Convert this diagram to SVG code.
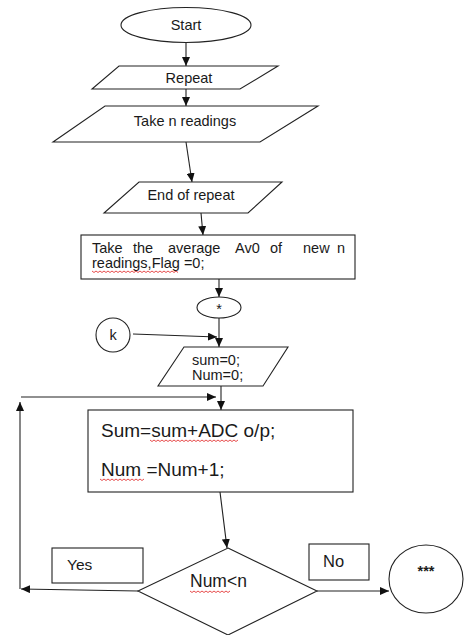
<svg xmlns="http://www.w3.org/2000/svg" width="470" height="635" viewBox="0 0 470 635">
<style>
.s{fill:#fff;stroke:#222;stroke-width:1.1}
.t{font-family:"Liberation Sans",Arial,sans-serif;font-size:14.5px;fill:#1a1a1a}
.b{font-size:19px}
.c{fill:none;stroke:#222;stroke-width:1.1}
.w{fill:none;stroke:#e02020;stroke-width:0.8}
</style>
<defs>
<marker id="a" markerUnits="userSpaceOnUse" markerWidth="10" markerHeight="8" refX="9" refY="4" orient="auto">
<path d="M0,0 L9,4 L0,8 z" fill="#111"/>
</marker>
</defs>
<rect width="470" height="635" fill="#fff"/>
<g id="connectors">
<line class="c" x1="186" y1="42" x2="186" y2="66" marker-end="url(#a)"/>
<line class="c" x1="186" y1="89" x2="186" y2="106" marker-end="url(#a)"/>
<line class="c" x1="186" y1="142" x2="192" y2="182" marker-end="url(#a)"/>
<line class="c" x1="201" y1="213" x2="203" y2="235" marker-end="url(#a)"/>
<line class="c" x1="219" y1="279" x2="219" y2="297" marker-end="url(#a)"/>
<line class="c" x1="219" y1="318" x2="219" y2="347" marker-end="url(#a)"/>
<line class="c" x1="133" y1="334" x2="217" y2="337" marker-end="url(#a)"/>
<line class="c" x1="221" y1="386" x2="221" y2="410" marker-end="url(#a)"/>
<line class="c" x1="138" y1="591" x2="21" y2="589" marker-end="url(#a)"/>
<line class="c" x1="20" y1="589" x2="20" y2="402" marker-end="url(#a)"/>
<line class="c" x1="21" y1="397" x2="216" y2="397" marker-end="url(#a)"/>
<line class="c" x1="220" y1="492" x2="227" y2="548" marker-end="url(#a)"/>
<line class="c" x1="317" y1="591" x2="389" y2="591" marker-end="url(#a)"/>
</g>
<g id="start">
<ellipse class="s" cx="186" cy="25" rx="65" ry="17.5"/>
<text class="t" x="186" y="30" text-anchor="middle">Start</text>
</g>
<g id="repeat">
<polygon class="s" points="119,66 278,66 240,89 92,89"/>
<text class="t" x="189" y="83" text-anchor="middle">Repeat</text>
</g>
<g id="take-n">
<polygon class="s" points="105,106 318,106 260,142 53,142"/>
<text class="t" x="185" y="126" text-anchor="middle">Take n readings</text>
</g>
<g id="end-repeat">
<polygon class="s" points="139,182 282,182 248,213 104,213"/>
<text class="t" x="191" y="200" text-anchor="middle">End of repeat</text>
</g>
<g id="average">
<rect class="s" x="81" y="235" width="274" height="44"/>
<text class="t" y="253"><tspan x="92">Take</tspan><tspan x="133">the</tspan><tspan x="168">average</tspan><tspan x="235">Av0</tspan><tspan x="270">of</tspan><tspan x="303">new</tspan><tspan x="337">n</tspan></text>
<text class="t" x="92" y="268">readings,Flag =0;</text>
<path class="w" d="M92,271 l2,1.5 l2,-1.5 l2,1.5 l2,-1.5 l2,1.5 l2,-1.5 l2,1.5 l2,-1.5 l2,1.5 l2,-1.5 l2,1.5 l2,-1.5 l2,1.5 l2,-1.5 l2,1.5 l2,-1.5 l2,1.5 l2,-1.5 l2,1.5 l2,-1.5 l2,1.5 l2,-1.5 l2,1.5 l2,-1.5 l2,1.5 l2,-1.5 l2,1.5 l2,-1.5 l2,1.5 l2,-1.5 l2,1.5 l2,-1.5 l2,1.5 l2,-1.5 l2,1.5 l2,-1.5 l2,1.5 l2,-1.5 l2,1.5 l2,-1.5 l2,1.5 l2,-1.5 l2,1.5"/>
</g>
<g id="connector-star">
<ellipse class="s" cx="219" cy="307.5" rx="22" ry="10.5"/>
<text class="t" x="219" y="314" text-anchor="middle">*</text>
</g>
<g id="connector-k">
<circle class="s" cx="113" cy="335" r="17"/>
<text class="t" x="113" y="340" text-anchor="middle">k</text>
</g>
<g id="init">
<polygon class="s" points="184,347 288,347 263,386 158,386"/>
<text class="t" x="192" y="365">sum=0;</text>
<text class="t" x="192" y="380">Num=0;</text>
</g>
<g id="accumulate">
<rect class="s" x="88" y="410" width="265" height="82"/>
<text class="t b" x="101" y="437">Sum=sum+ADC o/p;</text>
<text class="t b" x="101" y="476">Num =Num+1;</text>
<path class="w" d="M150,440 l2,1.5 l2,-1.5 l2,1.5 l2,-1.5 l2,1.5 l2,-1.5 l2,1.5 l2,-1.5 l2,1.5 l2,-1.5 l2,1.5 l2,-1.5 l2,1.5 l2,-1.5 l2,1.5 l2,-1.5 l2,1.5 l2,-1.5 l2,1.5 l2,-1.5 l2,1.5 l2,-1.5 l2,1.5 l2,-1.5 l2,1.5 l2,-1.5 l2,1.5 l2,-1.5 l2,1.5 l2,-1.5 l2,1.5 l2,-1.5 l2,1.5 l2,-1.5 l2,1.5 l2,-1.5 l2,1.5 l2,-1.5 l2,1.5 l2,-1.5 l2,1.5 l2,-1.5 l2,1.5 l2,-1.5"/>
<path class="w" d="M100,479 l2,1.5 l2,-1.5 l2,1.5 l2,-1.5 l2,1.5 l2,-1.5 l2,1.5 l2,-1.5 l2,1.5 l2,-1.5 l2,1.5 l2,-1.5 l2,1.5 l2,-1.5 l2,1.5 l2,-1.5 l2,1.5 l2,-1.5 l2,1.5 l2,-1.5 l2,1.5 l2,-1.5"/>
</g>
<g id="decision">
<polygon class="s" points="228,548 317,591 228,635 138,591"/>
<text class="t" x="190" y="587" style="font-size:17.5px">Num&lt;n</text>
<path class="w" d="M190,591 l2,1.5 l2,-1.5 l2,1.5 l2,-1.5 l2,1.5 l2,-1.5 l2,1.5 l2,-1.5 l2,1.5 l2,-1.5 l2,1.5 l2,-1.5 l2,1.5 l2,-1.5 l2,1.5 l2,-1.5 l2,1.5 l2,-1.5 l2,1.5 l2,-1.5"/>
</g>
<g id="yes-label">
<rect class="s" x="52" y="548" width="91" height="35"/>
<text class="t" x="67" y="570" style="font-size:15.5px">Yes</text>
</g>
<g id="no-label">
<rect class="s" x="309" y="544" width="60" height="36"/>
<text class="t" x="323" y="567" style="font-size:16.5px">No</text>
</g>
<g id="end-connector">
<ellipse class="s" cx="426" cy="579" rx="37" ry="34"/>
<text class="t" x="426" y="576" text-anchor="middle" style="font-weight:bold">***</text>
</g>
</svg>
